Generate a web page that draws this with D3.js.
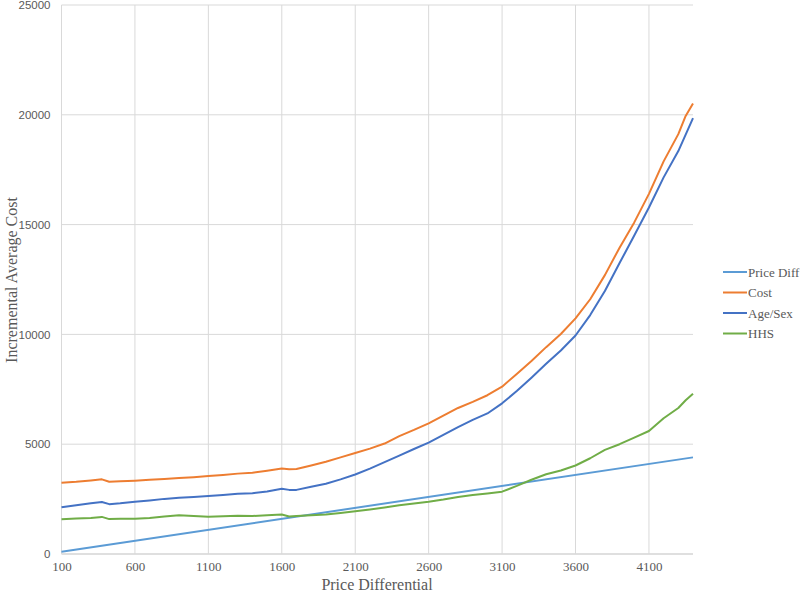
<!DOCTYPE html>
<html>
<head>
<meta charset="utf-8">
<script src="https://cdnjs.cloudflare.com/ajax/libs/d3/7.8.5/d3.min.js"></script>
<style>
  body { margin: 0; background: #ffffff; }
  #chart_div { width: 800px; height: 595px; }
</style>
</head>
<body>
<div id="chart_div"></div>
<script>
/*********************************************
 * Description: Incremental average cost chart *
 *********************************************/

/*
 * Data
 */
var gvPriceX = [100, 4400];
var gvPriceDiff = [100, 4400];

var gvX = [100, 200, 300, 375, 425, 500, 600, 700, 800, 900, 1000, 1100, 1200, 1300, 1400,
           1500, 1600, 1650, 1700, 1800, 1900, 2000, 2100, 2200, 2300, 2400, 2500, 2600, 2700,
           2800, 2900, 3000, 3100, 3200, 3300, 3400, 3500, 3600, 3700, 3800, 3900, 4000, 4100,
           4200, 4300, 4350, 4400];

var gvCost = [3250, 3290, 3350, 3400, 3290, 3310, 3340, 3380, 3420, 3460, 3500, 3550, 3600, 3660, 3700,
              3790, 3890, 3860, 3870, 4030, 4200, 4400, 4600, 4800, 5030, 5370, 5650, 5950, 6300,
              6650, 6930, 7230, 7620, 8200, 8790, 9420, 10020, 10730, 11600, 12700, 13950, 15100, 16400,
              17880, 19120, 19950, 20520];

var gvAgeSex = [2130, 2220, 2310, 2370, 2270, 2310, 2380, 2440, 2510, 2560, 2600, 2640, 2690, 2740, 2770,
                2850, 2970, 2920, 2920, 3060, 3200, 3400, 3620, 3890, 4180, 4480, 4780, 5070, 5420,
                5780, 6110, 6400, 6860, 7420, 8030, 8660, 9270, 9950, 10880, 11980, 13250, 14500, 15780,
                17150, 18350, 19100, 19850];

var gvHHS = [1580, 1620, 1640, 1690, 1590, 1600, 1610, 1640, 1710, 1760, 1730, 1700, 1720, 1745, 1730,
             1760, 1800, 1710, 1730, 1760, 1800, 1870, 1950, 2030, 2120, 2220, 2300, 2380, 2480,
             2600, 2690, 2760, 2840, 3100, 3380, 3630, 3800, 4030, 4360, 4740, 5000, 5300, 5600,
             6180, 6650, 7000, 7300];

var gvXTicks = [100, 600, 1100, 1600, 2100, 2600, 3100, 3600, 4100];
var gvYTicks = [0, 5000, 10000, 15000, 20000, 25000];

var gvSeriesNames = ['Price Diff', 'Cost', 'Age/Sex', 'HHS'];
var gvSeriesColours = ['#5b9bd5', '#ed7d31', '#4472c4', '#70ad47'];

/*
 * Build the chart
 */
function buildChart() {

  var svg = d3.select('#chart_div')
    .append('svg')
    .attr('width', 800)
    .attr('height', 595);

  var x_scale = d3.scaleLinear()
    .domain([100, 4400])
    .range([61.5, 693]);

  var y_scale = d3.scaleLinear()
    .domain([0, 25000])
    .range([554, 5]);

  // gridlines
  svg.append('g')
    .selectAll('line')
    .data(gvYTicks)
    .enter()
    .append('line')
    .attr('x1', x_scale(100))
    .attr('x2', x_scale(4400))
    .attr('y1', function(d) { return y_scale(d); })
    .attr('y2', function(d) { return y_scale(d); })
    .attr('stroke', function(d) { return d == 0 ? '#bfbfbf' : '#d9d9d9'; })
    .attr('stroke-width', 1);

  svg.append('g')
    .selectAll('line')
    .data(gvXTicks)
    .enter()
    .append('line')
    .attr('x1', function(d) { return x_scale(d); })
    .attr('x2', function(d) { return x_scale(d); })
    .attr('y1', y_scale(0))
    .attr('y2', y_scale(25000))
    .attr('stroke', '#d9d9d9')
    .attr('stroke-width', 1);

  // axes (labels only, lines are the gridlines)
  var x_axis = d3.axisBottom(x_scale)
    .tickValues(gvXTicks)
    .tickSize(0)
    .tickPadding(8)
    .tickFormat(function(d) { return d; });

  var gx = svg.append('g')
    .attr('transform', 'translate(0,' + y_scale(0) + ')')
    .call(x_axis);
  gx.select('.domain').remove();
  gx.selectAll('text')
    .attr('font-family', '"Liberation Serif", "Times New Roman", serif')
    .attr('font-size', '13px')
    .attr('fill', '#595959');

  var y_axis = d3.axisLeft(y_scale)
    .tickValues(gvYTicks)
    .tickSize(0)
    .tickPadding(11)
    .tickFormat(function(d) { return d; });

  var gy = svg.append('g')
    .attr('transform', 'translate(' + x_scale(100) + ',0)')
    .call(y_axis);
  gy.select('.domain').remove();
  gy.selectAll('text')
    .attr('font-family', '"Liberation Sans", Arial, sans-serif')
    .attr('font-size', '11.5px')
    .attr('fill', '#595959');

  // axis titles
  svg.append('text')
    .attr('x', 377)
    .attr('y', 590)
    .attr('text-anchor', 'middle')
    .attr('font-family', '"Liberation Serif", "Times New Roman", serif')
    .attr('font-size', '16px')
    .attr('fill', '#595959')
    .text('Price Differential');

  svg.append('text')
    .attr('transform', 'translate(17,280) rotate(-90)')
    .attr('text-anchor', 'middle')
    .attr('font-family', '"Liberation Serif", "Times New Roman", serif')
    .attr('font-size', '16px')
    .attr('fill', '#595959')
    .text('Incremental  Average Cost');

  // series
  var line = d3.line()
    .x(function(d) { return x_scale(d[0]); })
    .y(function(d) { return y_scale(d[1]); });

  var series = [
    d3.zip(gvPriceX, gvPriceDiff),
    d3.zip(gvX, gvCost),
    d3.zip(gvX, gvAgeSex),
    d3.zip(gvX, gvHHS)
  ];

  // draw order: price diff first so the others sit on top like the original
  svg.append('g')
    .selectAll('path')
    .data(series)
    .enter()
    .append('path')
    .attr('d', line)
    .attr('fill', 'none')
    .attr('stroke', function(d, i) { return gvSeriesColours[i]; })
    .attr('stroke-width', 2)
    .attr('stroke-linejoin', 'round');

  // legend
  var legend = svg.append('g')
    .selectAll('g')
    .data(gvSeriesNames)
    .enter()
    .append('g')
    .attr('transform', function(d, i) { return 'translate(723,' + (272 + i * 20.5) + ')'; });

  legend.append('line')
    .attr('x1', 0)
    .attr('x2', 24)
    .attr('y1', 0)
    .attr('y2', 0)
    .attr('stroke', function(d, i) { return gvSeriesColours[i]; })
    .attr('stroke-width', 2);

  legend.append('text')
    .attr('x', 25)
    .attr('y', 4.5)
    .attr('font-family', '"Liberation Serif", "Times New Roman", serif')
    .attr('font-size', '13px')
    .attr('fill', '#595959')
    .text(function(d) { return d; });
}

buildChart();
</script>
</body>
</html>
